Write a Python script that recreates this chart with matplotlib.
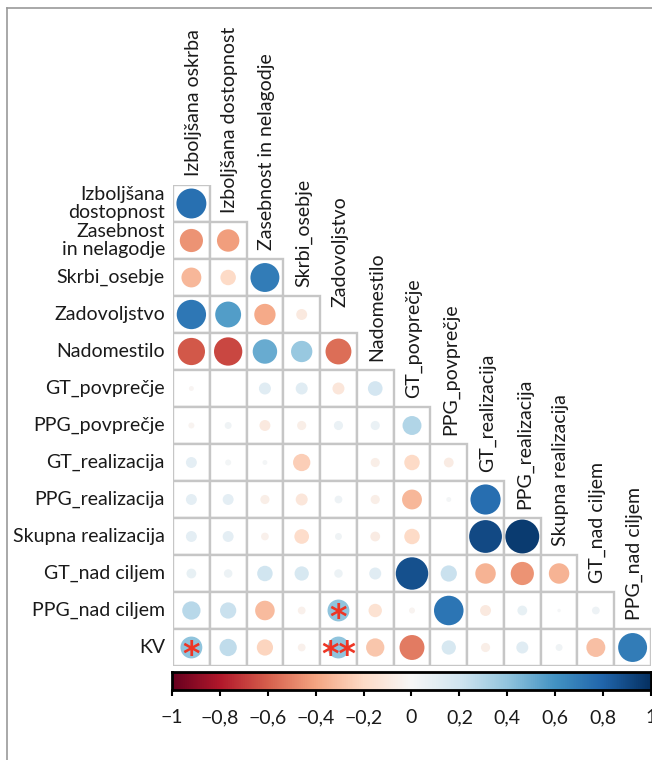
import numpy as np
import matplotlib
matplotlib.use('Agg')
import matplotlib.pyplot as plt
from matplotlib.patches import Ellipse, Rectangle
from matplotlib.lines import Line2D
import matplotlib.colors as mcolors

plt.rcParams['font.family'] = ['Lato', 'DejaVu Sans']

# Variables (columns = first 13, rows = last 13)
col_labels = ['Izboljšana oskrba', 'Izboljšana dostopnost', 'Zasebnost in nelagodje',
              'Skrbi_osebje', 'Zadovoljstvo', 'Nadomestilo', 'GT_povprečje',
              'PPG_povprečje', 'GT_realizacija', 'PPG_realizacija',
              'Skupna realizacija', 'GT_nad ciljem', 'PPG_nad ciljem']
row_labels = ['Izboljšana\ndostopnost', 'Zasebnost\nin nelagodje', 'Skrbi_osebje',
              'Zadovoljstvo', 'Nadomestilo', 'GT_povprečje', 'PPG_povprečje',
              'GT_realizacija', 'PPG_realizacija', 'Skupna realizacija',
              'GT_nad ciljem', 'PPG_nad ciljem', 'KV']

# lower triangle correlations, row i has i+1 values
corr = [
    [0.75],
    [-0.45, -0.42],
    [-0.33, -0.20, 0.70],
    [0.72, 0.56, -0.38, -0.10],
    [-0.62, -0.67, 0.50, 0.38, -0.56],
    [-0.02, 0.00, 0.12, 0.12, -0.12, 0.18],
    [-0.03, 0.04, -0.10, -0.07, 0.07, 0.07, 0.30],
    [0.10, 0.03, 0.02, -0.25, 0.00, -0.07, -0.20, -0.08],
    [0.10, 0.10, -0.07, -0.12, 0.05, -0.07, -0.33, 0.02, 0.76],
    [0.10, 0.10, -0.05, -0.18, 0.04, -0.08, -0.20, 0.00, 0.90, 0.96],
    [0.08, 0.06, 0.20, 0.17, 0.06, 0.12, 0.88, 0.22, -0.35, -0.45, -0.35],
    [0.28, 0.22, -0.32, -0.05, 0.40, -0.15, -0.03, 0.73, -0.10, 0.08, 0.01, 0.05],
    [0.40, 0.25, -0.22, -0.05, 0.40, -0.28, -0.52, 0.17, -0.07, 0.12, 0.04, -0.30, 0.70],
]

# significance marks (row, col, text)
stars = [(11, 4, '*'), (12, 0, '*'), (12, 4, '**')]

tick_vals = np.arange(-1, 1.01, 0.2)

W, H = 652, 760
fig = plt.figure(figsize=(W / 100, H / 100), dpi=100)

n = len(row_labels)
gl, gr, gt, gb = 173, 651, 185, 666
ax = fig.add_axes([gl / W, 1 - gb / H, (gr - gl) / W, (gb - gt) / H])
ax.set_xlim(0, n)
ax.set_ylim(n, 0)
ax.axis('off')
sx = (gr - gl) / n
sy = (gb - gt) / n

cmap = plt.get_cmap('RdBu')
norm = mcolors.Normalize(-1, 1)
fs = 14

for i, row in enumerate(corr):
    for j, r in enumerate(row):
        ax.add_patch(Rectangle((j, i), 1, 1, facecolor='white', edgecolor='#c6c6c6',
                               linewidth=1.7, zorder=1))
        d = 0.94 * np.sqrt(abs(r))
        if d > 0:
            ax.add_patch(Ellipse((j + 0.5, i + 0.5), d, d * sx / sy,
                                 facecolor=cmap(norm(r)), edgecolor='none', zorder=2))
    ax.text(-0.22, i + 0.5, row_labels[i], ha='right', va='center', fontsize=fs,
            color='#1a1a1a', linespacing=1.1)

for j, lab in enumerate(col_labels):
    gap = 0.7 if lab == 'Zadovoljstvo' else 0.24
    ax.text(j + 0.55, j - gap, lab, rotation=90, ha='left', va='center',
            fontsize=fs, color='#1a1a1a', rotation_mode='anchor')

for i, j, s in stars:
    ax.text(j + 0.5, i + 0.98, s, ha='center', va='baseline', fontsize=24,
            color='#ee3524', family='DejaVu Sans', fontweight='bold', zorder=3)

# colorbar
cax = fig.add_axes([172 / W, 1 - 690 / H, (651 - 172) / W, 18 / H])
grad = np.linspace(-1, 1, 512).reshape(1, -1)
cax.imshow(grad, aspect='auto', cmap=cmap, norm=norm, extent=(-1, 1, 0, 1))
cax.set_yticks([])
cax.set_xticks(tick_vals)
cax.set_xticklabels(['1' if abs(v - 1) < 1e-9 else '0' if abs(v) < 1e-9 else
                     ('−' if v < 0 else '') + ('%.1f' % abs(v)).replace('.', ',').replace('1,0', '1')
                     for v in tick_vals], fontsize=fs, color='#1a1a1a')
cax.tick_params(axis='x', length=4, width=1.5, pad=10)
for sp in cax.spines.values():
    sp.set_linewidth(2)

# outer frame
fig.add_artist(Line2D([7 / W, 7 / W], [0, 1 - 8 / H], color='#9a9a9a', lw=1.2))
fig.add_artist(Line2D([7 / W, 1], [1 - 8 / H, 1 - 8 / H], color='#9a9a9a', lw=1.2))

fig.savefig('out.png', dpi=100)
